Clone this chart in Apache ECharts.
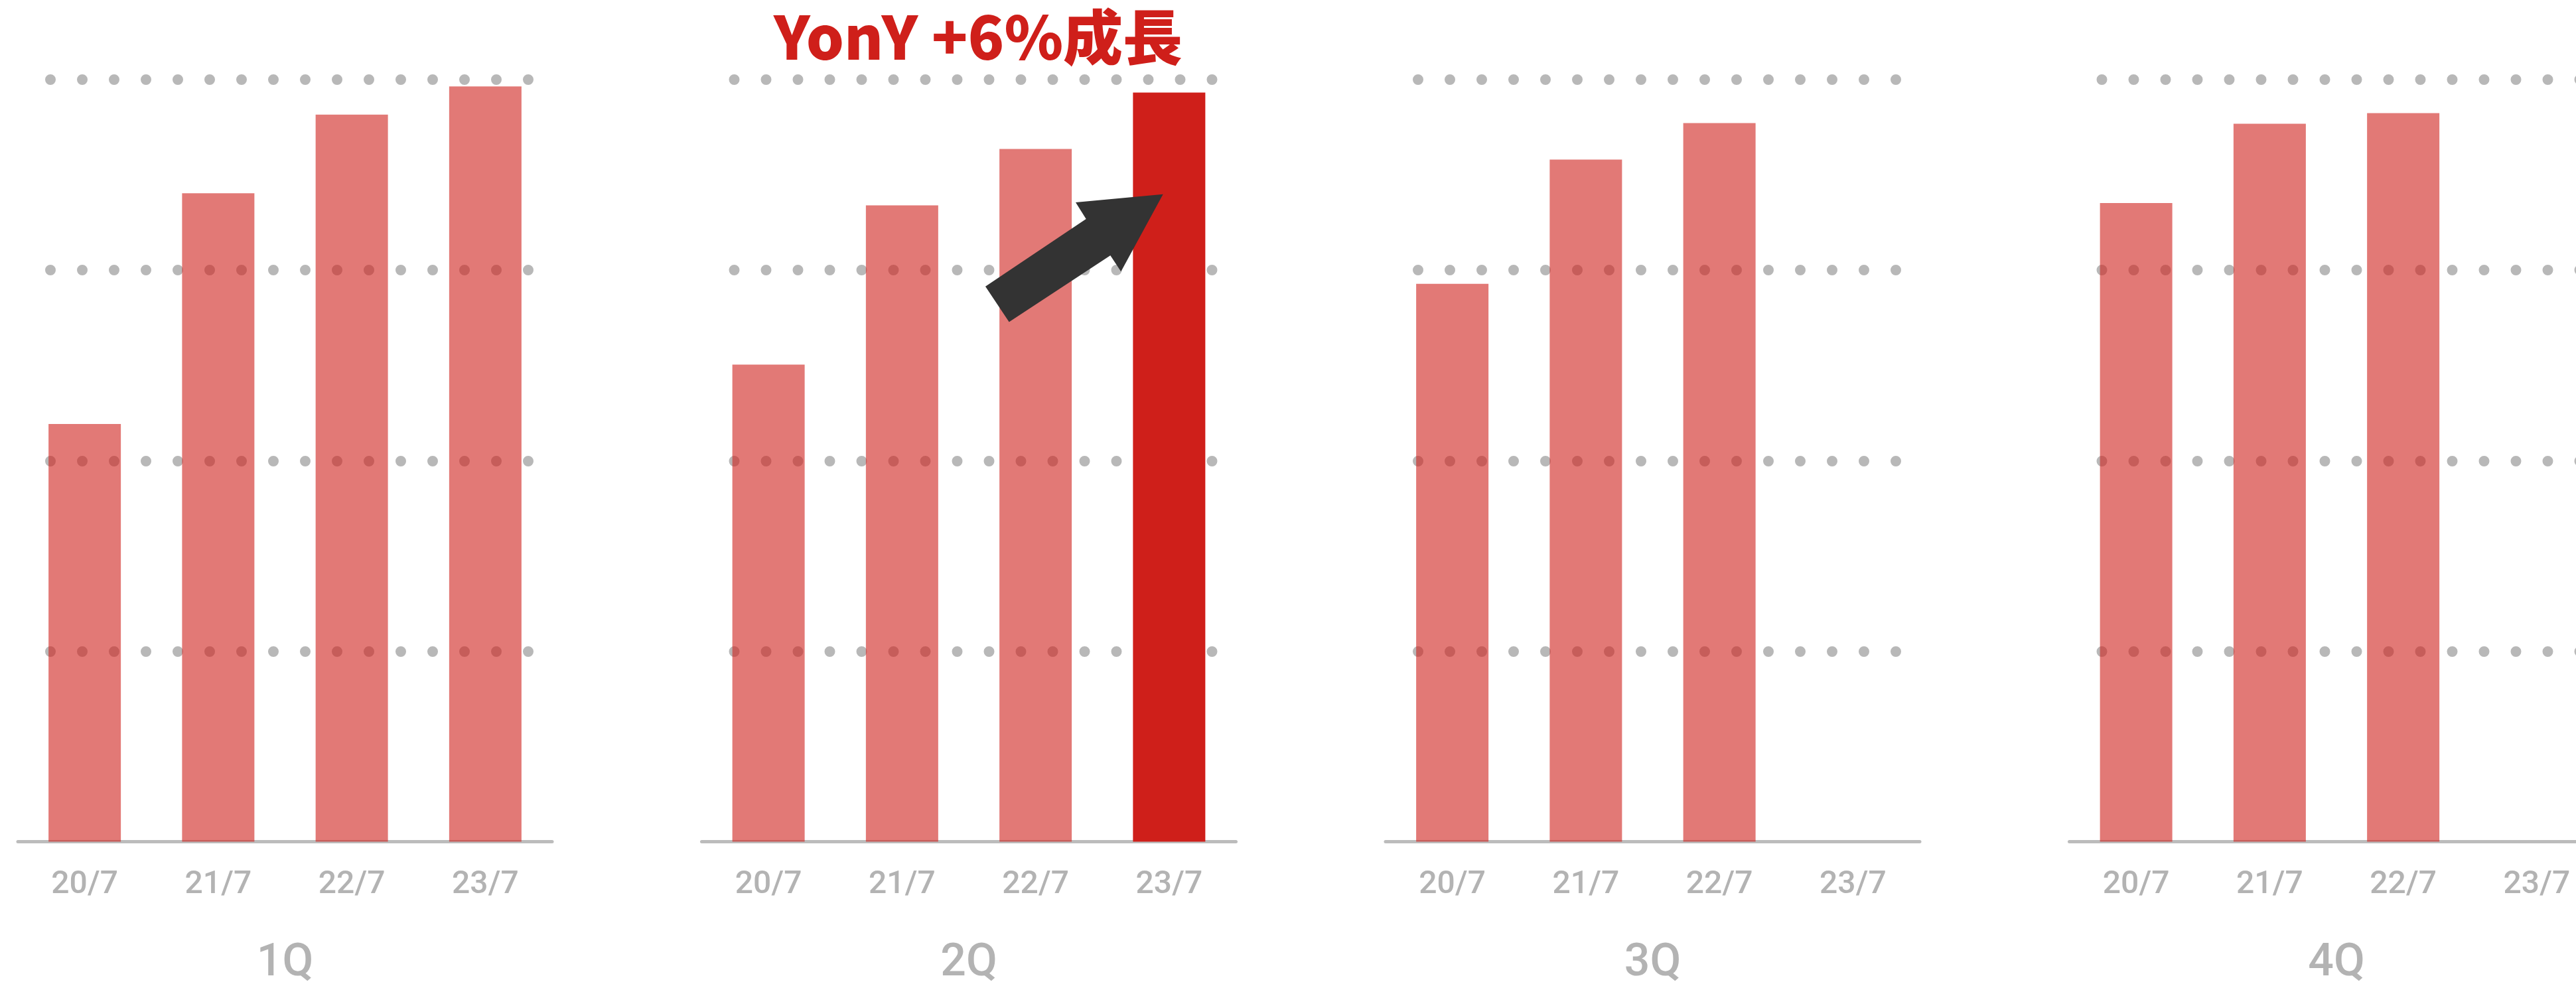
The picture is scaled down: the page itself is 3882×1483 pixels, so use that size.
<!DOCTYPE html>
<html>
<head>
<meta charset="utf-8">
<script src="https://cdn.jsdelivr.net/npm/echarts@6/dist/echarts.min.js"></script>
<style>
  html, body { margin: 0; padding: 0; background: #fff; overflow: hidden; }
  /* 4Q パネルは右端で切れているため、描画領域は画面より少し広くとる */
  #chart { width: 3930px; height: 1483px; }
</style>
</head>
<body>
<div id="chart"></div>
<script>
// 四半期ごとの推移（値は目盛なしのため 0-100 の相対値で読み取り）
const categories = ['20/7', '21/7', '22/7', '23/7'];
const quarters = ['1Q', '2Q', '3Q', '4Q'];
const q1Values = [54.8, 85.1, 95.4, 99.1];
const q2Values = [62.6, 83.5, 90.9, 98.3];
const q3Values = [73.2, 89.5, 94.3, null];
const q4Values = [83.8, 94.2, 95.6, null];
const quarterValues = [q1Values, q2Values, q3Values, q4Values];
const highlight = { quarter: 1, index: 3 }; // 2Q 23/7
const headline = 'YonY +6%成長';

const RED = '#CF1F1A';
const GRAY = '#b8b8b8';
const LABEL_FONT = 'Roboto, "Noto Sans", sans-serif';

const panelLeft = [27, 1057.5, 2088, 3118.5];
const gridTop = 120;
const gridBottom = 214.5;

let grids = [];
let xAxes = [];
let yAxes = [];
let series = [];

// 棒グラフ用グリッド
panelLeft.forEach((left, i) => {
  grids.push({
    left: left, width: 805, top: gridTop, bottom: gridBottom,
    containLabel: false, outerBoundsMode: 'none'
  });
  xAxes.push({
    type: 'category',
    gridIndex: i,
    data: categories,
    axisLine: { show: true, lineStyle: { color: '#bcbcbc', width: 5 } },
    axisTick: { show: false },
    axisLabel: {
      color: '#b3b3b3',
      fontSize: 48,
      fontWeight: 500,
      fontFamily: LABEL_FONT,
      margin: 41
    },
    name: quarters[i],
    nameLocation: 'middle',
    nameGap: 150,
    nameTextStyle: {
      color: '#b3b3b3',
      fontSize: 68,
      fontWeight: 500,
      fontFamily: LABEL_FONT
    }
  });
  yAxes.push({
    type: 'value',
    gridIndex: i,
    min: 0,
    max: 100,
    interval: 25,
    show: false,
    splitLine: { show: false }
  });
  series.push({
    type: 'bar',
    name: quarters[i],
    xAxisIndex: i,
    yAxisIndex: i,
    barWidth: 109,
    itemStyle: { color: RED, opacity: 0.6 },
    data: quarterValues[i].map((v, j) => {
      if (i === highlight.quarter && j === highlight.index) {
        return { value: v, itemStyle: { color: RED, opacity: 1 } };
      }
      return v;
    })
  });
});

// 点線グリッド（棒より少し内側）
panelLeft.forEach((left, i) => {
  grids.push({
    left: left + 49, width: 722, top: gridTop, bottom: gridBottom,
    outerBoundsMode: 'none'
  });
  xAxes.push({ type: 'value', gridIndex: 4 + i, show: false });
  yAxes.push({
    type: 'value',
    gridIndex: 4 + i,
    min: 0,
    max: 100,
    interval: 25,
    axisLine: { show: false },
    axisTick: { show: false },
    axisLabel: { show: false },
    splitLine: {
      show: true,
      showMinLine: false,
      lineStyle: { color: GRAY, width: 16, type: [0, 48], cap: 'round' }
    }
  });
});

const option = {
  animation: false,
  backgroundColor: '#fff',
  title: {
    text: headline,
    left: 1469,
    top: 6,
    textAlign: 'center',
    textStyle: {
      color: RED,
      fontSize: 90,
      fontWeight: 900,
      fontFamily: '"Noto Sans CJK JP", sans-serif'
    }
  },
  grid: grids,
  xAxis: xAxes,
  yAxis: yAxes,
  series: series,
  graphic: [
    {
      type: 'polygon',
      z: 100,
      shape: {
        points: [
          [1485, 431.7], [1636.7, 330], [1621, 305], [1752.7, 292.7],
          [1689.3, 409.3], [1673.3, 385], [1520.7, 485.3]
        ]
      },
      style: { fill: '#333333' }
    }
  ]
};

const chart = echarts.init(document.getElementById('chart'));
chart.setOption(option);
</script>
</body>
</html>
